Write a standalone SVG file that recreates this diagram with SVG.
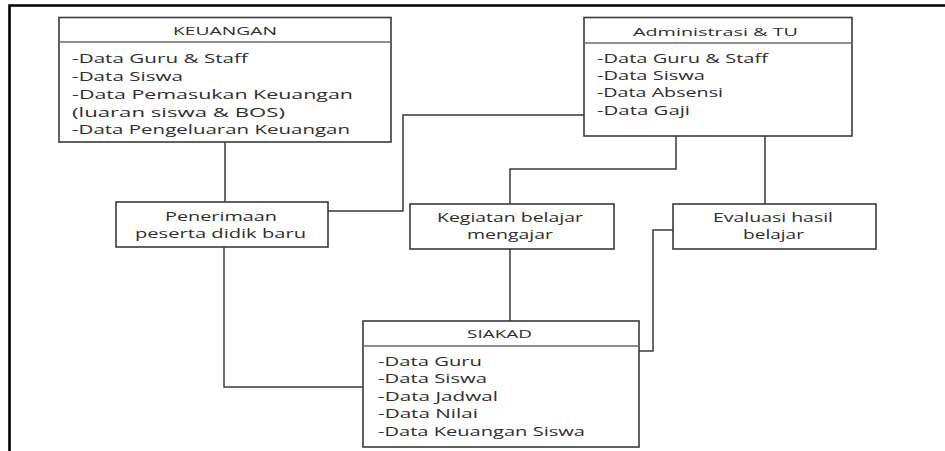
<svg xmlns="http://www.w3.org/2000/svg" width="945" height="451" viewBox="0 0 945 451">
<style>
.box{fill:#fff;stroke:#3a3a3a;stroke-width:1.6}
.sep{stroke:#6a6a6a;stroke-width:1.5}
.t{font-family:"Open Sans","Liberation Sans",sans-serif;fill:#2e2e2e}
.b{font-size:12px}
.h{font-size:10.5px}
.n{font-size:12.5px}
.c{fill:none;stroke:#3a3a3a;stroke-width:1.5}
</style>
<rect width="945" height="451" fill="#fff"/>
<path d="M9.5 451 V5.5 H945" fill="none" stroke="#000" stroke-width="2.6"/>
<g id="connectors">
<path class="c" d="M225 142 V202"/>
<path class="c" d="M224 247 V387 H363"/>
<path class="c" d="M328 211 H403 V115 H584"/>
<path class="c" d="M676 136 V169 H510 V204"/>
<path class="c" d="M765 136 V204"/>
<path class="c" d="M510 249 V321"/>
<path class="c" d="M673 230 H653 V351 H639"/>
</g>
<g id="keuangan">
<rect class="box" x="59" y="17.5" width="332" height="124.5"/>
<line class="sep" x1="59" y1="42" x2="391" y2="42"/>
<text class="t h" x="173" y="35" textLength="104" lengthAdjust="spacingAndGlyphs">KEUANGAN</text>
<text class="t b" x="72" y="63" textLength="176" lengthAdjust="spacingAndGlyphs">-Data Guru &amp; Staff</text>
<text class="t b" x="72" y="81" textLength="111" lengthAdjust="spacingAndGlyphs">-Data Siswa</text>
<text class="t b" x="72" y="99" textLength="281" lengthAdjust="spacingAndGlyphs">-Data Pemasukan Keuangan</text>
<text class="t b" x="72" y="117" textLength="213" lengthAdjust="spacingAndGlyphs">(luaran siswa &amp; BOS)</text>
<text class="t b" x="72" y="134" textLength="278" lengthAdjust="spacingAndGlyphs">-Data Pengeluaran Keuangan</text>
</g>
<g id="administrasi">
<rect class="box" x="584" y="17.5" width="268" height="118.5"/>
<line class="sep" x1="584" y1="43" x2="852" y2="43"/>
<text class="t h" x="633" y="36" textLength="165" lengthAdjust="spacingAndGlyphs">Administrasi &amp; TU</text>
<text class="t b" x="597" y="63" textLength="171" lengthAdjust="spacingAndGlyphs">-Data Guru &amp; Staff</text>
<text class="t b" x="597" y="80" textLength="108" lengthAdjust="spacingAndGlyphs">-Data Siswa</text>
<text class="t b" x="597" y="97" textLength="126" lengthAdjust="spacingAndGlyphs">-Data Absensi</text>
<text class="t b" x="597" y="115" textLength="93" lengthAdjust="spacingAndGlyphs">-Data Gaji</text>
</g>
<g id="penerimaan">
<rect class="box" x="116" y="202" width="212" height="45"/>
<text class="t n" x="165" y="221" textLength="112" lengthAdjust="spacingAndGlyphs">Penerimaan</text>
<text class="t n" x="135" y="238" textLength="171" lengthAdjust="spacingAndGlyphs">peserta didik baru</text>
</g>
<g id="kegiatan">
<rect class="box" x="410" y="204" width="204" height="45"/>
<text class="t n" x="437" y="222" textLength="146" lengthAdjust="spacingAndGlyphs">Kegiatan belajar</text>
<text class="t n" x="467" y="239" textLength="86" lengthAdjust="spacingAndGlyphs">mengajar</text>
</g>
<g id="evaluasi">
<rect class="box" x="673" y="204" width="203" height="45"/>
<text class="t n" x="713" y="222" textLength="120" lengthAdjust="spacingAndGlyphs">Evaluasi hasil</text>
<text class="t n" x="743" y="239" textLength="61" lengthAdjust="spacingAndGlyphs">belajar</text>
</g>
<g id="siakad">
<rect class="box" x="363" y="321" width="276" height="126"/>
<line class="sep" x1="363" y1="346" x2="639" y2="346"/>
<text class="t h" x="467" y="338" textLength="65" lengthAdjust="spacingAndGlyphs">SIAKAD</text>
<text class="t b" x="378" y="366" textLength="104" lengthAdjust="spacingAndGlyphs">-Data Guru</text>
<text class="t b" x="378" y="383" textLength="109" lengthAdjust="spacingAndGlyphs">-Data Siswa</text>
<text class="t b" x="378" y="401" textLength="120" lengthAdjust="spacingAndGlyphs">-Data Jadwal</text>
<text class="t b" x="378" y="418" textLength="100" lengthAdjust="spacingAndGlyphs">-Data Nilai</text>
<text class="t b" x="378" y="436" textLength="207" lengthAdjust="spacingAndGlyphs">-Data Keuangan Siswa</text>
</g>
</svg>
